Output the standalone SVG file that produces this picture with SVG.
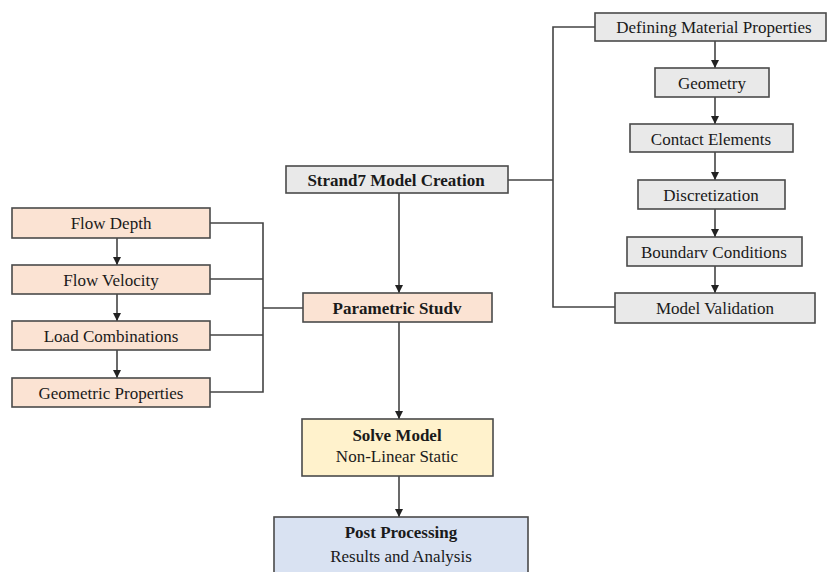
<svg xmlns="http://www.w3.org/2000/svg" width="827" height="572" viewBox="0 0 827 572">
<style>
.box{stroke:#4a4a4a;stroke-width:1.6}
.g{fill:#e9e9e9}.p{fill:#fbe3d3}.y{fill:#fff2cc}.b{fill:#d9e2f2}
text{font-family:"Liberation Serif","Times New Roman",serif;font-size:17px;fill:#1a1a1a;text-anchor:middle}
.bd{font-weight:bold}
.ln{fill:none;stroke:#444;stroke-width:1.6}
</style>
<defs>
<marker id="ah" viewBox="0 0 10 10" refX="10" refY="5" markerWidth="8" markerHeight="8" markerUnits="userSpaceOnUse" orient="auto">
<path d="M0,0L10,5L0,10z" fill="#222"/>
</marker>
</defs>
<rect width="827" height="572" fill="#fff"/>
<g id="connectors">
<path class="ln" d="M595,27H553V307H615"/>
<path class="ln" d="M508,180H553"/>
<path class="ln" d="M715,41V68" marker-end="url(#ah)"/>
<path class="ln" d="M715,97V124" marker-end="url(#ah)"/>
<path class="ln" d="M715,152V180" marker-end="url(#ah)"/>
<path class="ln" d="M715,209V237" marker-end="url(#ah)"/>
<path class="ln" d="M715,266V293" marker-end="url(#ah)"/>
<path class="ln" d="M117,238V265" marker-end="url(#ah)"/>
<path class="ln" d="M117,294V321" marker-end="url(#ah)"/>
<path class="ln" d="M117,350V378" marker-end="url(#ah)"/>
<path class="ln" d="M210,223H263V392H210M210,279H263M210,335H263M263,308H303"/>
<path class="ln" d="M399,193V293" marker-end="url(#ah)"/>
<path class="ln" d="M399,322V419" marker-end="url(#ah)"/>
<path class="ln" d="M399,476V517" marker-end="url(#ah)"/>
</g>
<g id="defining"><rect class="box g" x="595" y="13" width="231" height="28"/><text x="714" y="33">Defining Material Properties</text></g>
<g id="geometry"><rect class="box g" x="655" y="68" width="114" height="29"/><text x="712" y="89">Geometry</text></g>
<g id="contact"><rect class="box g" x="630" y="124" width="163" height="28"/><text x="711" y="145">Contact Elements</text></g>
<g id="discretization"><rect class="box g" x="638" y="180" width="147" height="29"/><text x="711" y="201">Discretization</text></g>
<g id="boundary"><rect class="box g" x="627" y="237" width="175" height="29"/><text x="714" y="258">Boundarv Conditions</text></g>
<g id="validation"><rect class="box g" x="615" y="293" width="200" height="30"/><text x="715" y="314">Model Validation</text></g>
<g id="strand7"><rect class="box g" x="286" y="166" width="222" height="27"/><text class="bd" x="396" y="186">Strand7 Model Creation</text></g>
<g id="flowdepth"><rect class="box p" x="12" y="208" width="198" height="30"/><text x="111" y="229">Flow Depth</text></g>
<g id="flowvelocity"><rect class="box p" x="12" y="265" width="198" height="29"/><text x="111" y="286">Flow Velocity</text></g>
<g id="load"><rect class="box p" x="12" y="321" width="198" height="29"/><text x="111" y="342">Load Combinations</text></g>
<g id="geomprops"><rect class="box p" x="12" y="378" width="198" height="29"/><text x="111" y="399">Geometric Properties</text></g>
<g id="parametric"><rect class="box p" x="303" y="293" width="189" height="29"/><text class="bd" x="397" y="314">Parametric Studv</text></g>
<g id="solve"><rect class="box y" x="302" y="419" width="191" height="57"/><text class="bd" x="397" y="441">Solve Model</text><text x="397" y="462">Non-Linear Static</text></g>
<g id="post"><rect class="box b" x="274" y="517" width="254" height="60"/><text class="bd" x="401" y="538">Post Processing</text><text x="401" y="562">Results and Analysis</text></g>
</svg>
